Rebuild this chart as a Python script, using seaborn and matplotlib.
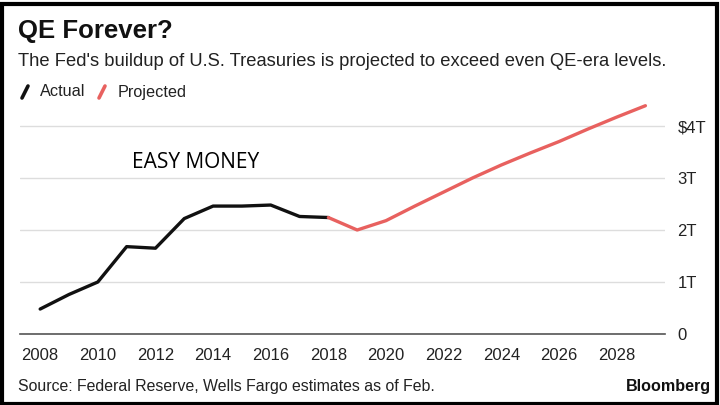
import matplotlib
matplotlib.use("Agg")
import matplotlib.pyplot as plt
from matplotlib.lines import Line2D
from matplotlib.patches import Rectangle
import seaborn as sns
import pandas as pd

# Fed holdings of U.S. Treasuries, trillions of dollars
actual_years = [2008, 2009, 2010, 2011, 2012, 2013, 2014, 2015, 2016, 2017, 2018]
actual_vals = [0.48, 0.76, 1.00, 1.68, 1.65, 2.22, 2.46, 2.46, 2.48, 2.26, 2.24]
proj_years = [2018, 2019, 2020, 2021, 2022, 2023, 2024, 2025, 2026, 2027, 2028, 2029]
proj_vals = [2.24, 2.00, 2.18, 2.46, 2.73, 3.00, 3.25, 3.48, 3.70, 3.94, 4.17, 4.39]
x_ticks = [2008, 2010, 2012, 2014, 2016, 2018, 2020, 2022, 2024, 2026, 2028]
y_ticks = [0, 1, 2, 3, 4]
y_labels = ["0", "1T", "2T", "3T", "$4T"]

actual = pd.DataFrame({"year": actual_years, "value": actual_vals})
proj = pd.DataFrame({"year": proj_years, "value": proj_vals})

sns.set_style("white")
plt.rcParams["font.family"] = ["Liberation Sans", "DejaVu Sans"]

BLACK = "#111111"
RED = "#e8615f"

fig = plt.figure(figsize=(7.2, 4.05), dpi=100)
ax = fig.add_axes([20 / 720, 1 - 334 / 405, 645 / 720, 234 / 405])

sns.lineplot(data=actual, x="year", y="value", ax=ax, color=BLACK, lw=2.4)
sns.lineplot(data=proj, x="year", y="value", ax=ax, color=RED, lw=2.4)

ax.set_xlim(2007.3, 2029.68)
ax.set_ylim(0, 4.5)
ax.set_xticks(x_ticks)
ax.set_xticklabels([str(t) for t in x_ticks])
ax.set_yticks(y_ticks)
ax.set_yticklabels(y_labels)
ax.yaxis.tick_right()
ax.set_xlabel("")
ax.set_ylabel("")
for s in ["top", "left", "right"]:
    ax.spines[s].set_visible(False)
ax.spines["bottom"].set_color("#555555")
ax.spines["bottom"].set_linewidth(1.2)
ax.grid(axis="y", color="#dddddd", lw=1)
ax.grid(axis="x", visible=False)
ax.tick_params(axis="x", length=5, width=1, color="#555555", direction="out",
               labelsize=12, pad=5, labelcolor="#222222")
ax.tick_params(axis="y", length=0, labelsize=12, pad=9, labelcolor="#222222")

ax.text(2013.4, 3.29, "EASY MONEY", fontsize=15, color="black", ha="center",
        va="center", family=["Open Sans", "DejaVu Sans"])

# headings
fig.text(18 / 720, 1 - 31 / 405, "QE Forever?", fontsize=18.5, fontweight="bold",
         color="#111111", va="center")
fig.text(18 / 720, 1 - 61 / 405, "The Fed's buildup of U.S. Treasuries is projected to exceed even QE-era levels.",
         fontsize=13.2, color="#222222", va="center")

# legend
fig.add_artist(Line2D([22 / 720, 28 / 720], [1 - 98 / 405, 1 - 86 / 405],
                      color=BLACK, lw=2.6, transform=fig.transFigure))
fig.text(40 / 720, 1 - 92 / 405, "Actual", fontsize=11.7, color="#222222", va="center")
fig.add_artist(Line2D([99 / 720, 105 / 720], [1 - 98 / 405, 1 - 86 / 405],
                      color=RED, lw=2.6, transform=fig.transFigure))
fig.text(118 / 720, 1 - 92 / 405, "Projected", fontsize=11.7, color="#222222", va="center")

# footer
fig.text(18 / 720, 1 - 386 / 405, "Source: Federal Reserve, Wells Fargo estimates as of Feb.",
         fontsize=11.4, color="#222222", va="center")
fig.text(711 / 720, 1 - 386 / 405, "Bloomberg", fontsize=11.6, fontweight="bold",
         color="#111111", va="center", ha="right")

# frame around the picture
fig.add_artist(Rectangle((1.5 / 720, 1.5 / 405), 715 / 720, 400 / 405, fill=False,
                         edgecolor="black", lw=3, transform=fig.transFigure))

fig.savefig("out.png", dpi=100)
